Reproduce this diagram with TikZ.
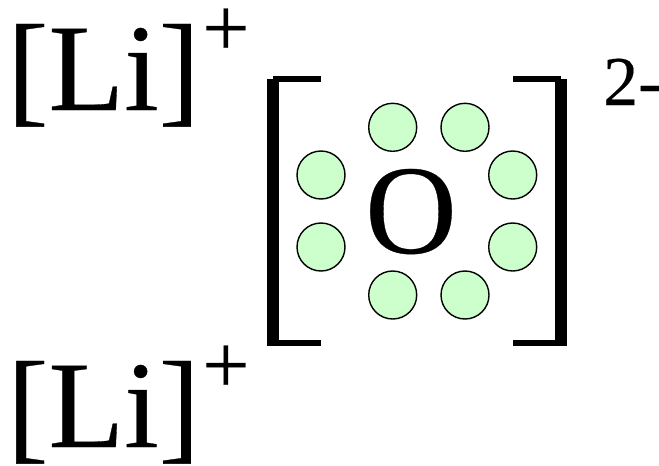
\documentclass[tikz,border=0pt]{standalone}
\usepackage{fontspec}
\setmainfont{Liberation Serif}
\newfontfamily\heavyserif[FakeBold=0.25]{Liberation Serif}
\usepackage{xcolor}
\usetikzlibrary{positioning}
\definecolor{ink}{RGB}{0,0,0}
\definecolor{nodegreen}{RGB}{204,255,204}
\tikzset{
  elem/.style={anchor=base west, inner sep=0pt, text=ink, font=\heavyserif\fontsize{124}{124}\selectfont},
  oxy/.style={anchor=base, inner sep=0pt, text=ink, font=\heavyserif\fontsize{127}{127}\selectfont},
  chg/.style={anchor=base west, inner sep=0pt, text=ink, font=\heavyserif\fontsize{84}{84}\selectfont},
  chg2/.style={anchor=base west, inner sep=0pt, text=ink, font=\heavyserif\fontsize{70}{70}\selectfont},
  electron/.style={circle, draw=ink, fill=nodegreen, minimum size=48pt, inner sep=0pt, line width=1.4pt},
  barv/.style={line width=12pt, draw=ink},
  barh/.style={line width=6pt, draw=ink},
}
\begin{document}
\begin{tikzpicture}[x=1pt, y=-1pt]
  \useasboundingbox (0,0) rectangle (659,466);
  \node[elem] (li1) at (7,110) {[Li]};
  \node[chg] (plus1) at (202,56) {+};
  \node[elem] (li2) at (7,447) {[Li]};
  \node[chg] (plus2) at (202,393) {+};
  \node[oxy] (oxy) at (411,253) {O};
  \node[chg2] (chgO) at (603,105) {2-};
  \foreach \n/\x/\y in {a/392.7/127.3, b/465/127.3, c/321/175, d/512.7/175,
    e/321/247, f/512.7/247, g/392.7/295, h/465/295}
    \node[electron] (el\n) at (\x,\y) {};
  % left bracket
  \draw[barv] (273,79) -- (273,346);
  \draw[barh] (273,79) -- (321,79);
  \draw[barh] (273,343) -- (321,343);
  % right bracket
  \draw[barv] (561,79) -- (561,346);
  \draw[barh] (513,79) -- (561,79);
  \draw[barh] (513,343) -- (561,343);
\end{tikzpicture}
\end{document}
